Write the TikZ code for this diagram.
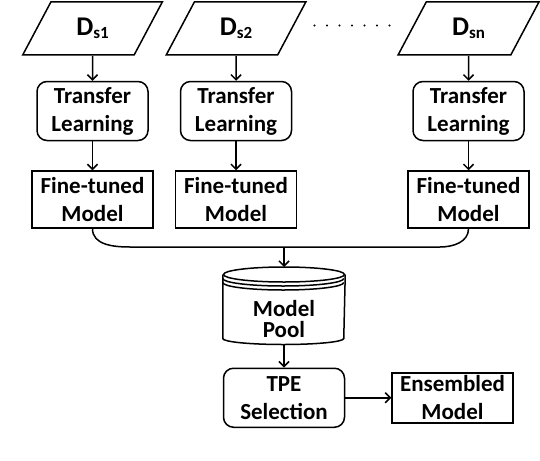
\documentclass[tikz,border=0pt]{standalone}
\usepackage{fontspec}
\setmainfont{Carlito}
\usetikzlibrary{arrows.meta,positioning,shapes.geometric}

\begin{document}
\begin{tikzpicture}[x=1pt,y=1pt,->,>={Straight Barb[length=5pt,width=10pt]},
  line width=1.5pt,font=\fontsize{23}{28}\selectfont\bfseries,
  data node/.style={trapezium,trapezium left angle=62,trapezium right angle=118,draw,
    minimum width=139pt,minimum height=53pt,inner sep=0pt},
  learn node/.style={rectangle,rounded corners=10pt,draw,align=center,
    minimum width=111pt,minimum height=59pt,inner sep=0pt},
  model node/.style={rectangle,draw,align=center,minimum width=121pt,minimum height=57pt,inner sep=0pt}]

  \useasboundingbox (0,0) rectangle (540,-460);

  \node[data node] (ds1) at (92.5,-28.5) {\fontsize{27}{30}\selectfont D\raisebox{-3pt}{\fontsize{17}{20}\selectfont s1}};
  \node[data node] (ds2) at (236,-28.5) {\fontsize{27}{30}\selectfont D\raisebox{-3pt}{\fontsize{17}{20}\selectfont s2}};
  \node[data node] (dsn) at (468.5,-28.5) {\fontsize{27}{30}\selectfont D\raisebox{-3pt}{\fontsize{17}{20}\selectfont sn}};

  \node[learn node] (tl1) [below=25pt of ds1] {Transfer\\Learning};
  \node[learn node] (tl2) [below=25pt of ds2] {Transfer\\Learning};
  \node[learn node] (tln) [below=25pt of dsn] {Transfer\\Learning};

  \node[model node] (ft1) [below=29pt of tl1] {Fine-tuned\\Model};
  \node[model node] (ft2) [below=29pt of tl2] {Fine-tuned\\Model};
  \node[model node] (ftn) [below=29pt of tln] {Fine-tuned\\Model};

  \coordinate (join) at (284,-247);
  \node[rectangle,minimum width=121pt,minimum height=76pt,inner sep=0pt] (pool) [below=20pt of join] {};
  \node[align=center,font=\fontsize{23}{21}\selectfont\bfseries,inner sep=0pt] (poollabel) at ([yshift=-13pt]pool.center) {Model\\Pool};

  \node[learn node,minimum width=121pt] (tpe) [below=23pt of pool] {TPE\\Selection};
  \node[model node,minimum height=50pt] (ens) [right=46pt of tpe] {Ensembled\\Model};

  % dots between the sources
  \draw[-,line cap=round,dash pattern=on 0pt off 12.5pt,line width=2.2pt]
    ([xshift=22pt,yshift=3pt]ds2.east) -- ([xshift=-12pt,yshift=3pt]dsn.west);

  % pool drum
  \draw[-] ([yshift=-7.5pt]pool.north west) -- ([yshift=6pt]pool.south west)
    arc[start angle=180,end angle=360,x radius=60.5pt,y radius=6pt] -- ([yshift=-7.5pt]pool.north east);
  \draw[-] ([yshift=-7.5pt]pool.north) ellipse[x radius=60.5pt,y radius=7.5pt];
  \draw[-] ([yshift=-11.5pt]pool.north west) arc[start angle=180,end angle=360,x radius=60.5pt,y radius=7.5pt];
  \draw[-] ([yshift=-15.5pt]pool.north west) arc[start angle=180,end angle=360,x radius=60.5pt,y radius=7.5pt];

  \draw[-] (ft1.south) to[out=-90,in=180] ([xshift=-154pt]join) -- ([xshift=156pt]join)
    to[out=0,in=-90] (ftn.south);

  \path
    (ds1) edge (tl1)
    (ds2) edge (tl2)
    (dsn) edge (tln)
    (tl1) edge (ft1)
    (tl2) edge (ft2)
    (tln) edge (ftn)
    (join) edge (pool)
    (pool) edge (tpe)
    (tpe) edge (ens);
\end{tikzpicture}
\end{document}
